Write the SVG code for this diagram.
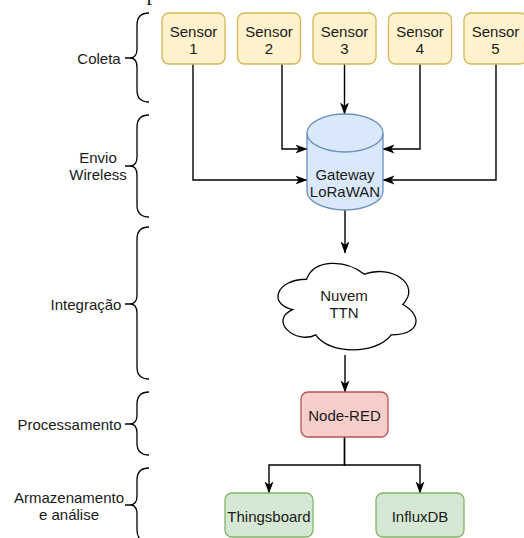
<svg xmlns="http://www.w3.org/2000/svg" width="524" height="538" viewBox="0 0 524 538">
<style>
text{font-family:"Liberation Sans",Arial,sans-serif;font-size:15px;fill:#1a1a1a;text-anchor:middle}
.sen{fill:#fff2cc;stroke:#d6b656;stroke-width:1.3}
.gw{fill:#dae8fc;stroke:#6c8ebf;stroke-width:1.3}
.red{fill:#f8cecc;stroke:#b85450;stroke-width:1.3}
.grn{fill:#d5e8d4;stroke:#82b366;stroke-width:1.3}
.cl{fill:#ffffff;stroke:#000;stroke-width:1.3}
.br{fill:none;stroke:#000;stroke-width:1.3}
.cn{fill:none;stroke:#000;stroke-width:1.4}
</style>
<defs>
<marker id="ah" markerUnits="userSpaceOnUse" markerWidth="12" markerHeight="10" viewBox="0 0 12 10" refX="11.5" refY="5" orient="auto">
<path d="M0,0.5 L12,5 L0,9.5 L3.2,5 Z" fill="#000"/>
</marker>
</defs>
<rect width="524" height="538" fill="#fff"/>
<text x="152" y="0" style="font-family:'Liberation Serif',serif;font-size:22px">p</text>

<g id="brackets">
<g id="b-coleta"><path class="br" d="M149,13 Q137,13 137,25 V49 Q137,58 130,58 H125 M130,58 Q137,58 137,67 V90 Q137,102 149,102"/><text x="99" y="64">Coleta</text></g>
<g id="b-envio"><path class="br" d="M149,115 Q137,115 137,127 V157 Q137,166 130,166 H125 M130,166 Q137,166 137,175 V205 Q137,217 149,217"/><text x="98" y="162.5">Envio</text><text x="98" y="179.5">Wireless</text></g>
<g id="b-integracao"><path class="br" d="M149,227 Q137,227 137,239 V295 Q137,304 130,304 H125 M130,304 Q137,304 137,313 V367 Q137,379 149,379"/><text x="86" y="310">Integração</text></g>
<g id="b-proc"><path class="br" d="M149,392 Q137,392 137,404 V415 Q137,424 130,424 H125 M130,424 Q137,424 137,433 V443 Q137,455 149,455"/><text x="69.5" y="429.5">Processamento</text></g>
<g id="b-armaz"><path class="br" d="M149,468 Q137,468 137,480 V496 Q137,505 130,505 H125 M130,505 Q137,505 137,514 V530 Q137,542 149,542"/><text x="69" y="502.5">Armazenamento</text><text x="69" y="520">e análise</text></g>
</g>

<g id="connectors">
<path class="cn" d="M193,64 V180 H307" marker-end="url(#ah)"/>
<path class="cn" d="M282,64 V149 H307" marker-end="url(#ah)"/>
<path class="cn" d="M344.5,64 V114" marker-end="url(#ah)"/>
<path class="cn" d="M420,64 V149 H383" marker-end="url(#ah)"/>
<path class="cn" d="M496,64 V180 H383" marker-end="url(#ah)"/>
<path class="cn" d="M345,210 V253" marker-end="url(#ah)"/>
<path class="cn" d="M345,355 V392" marker-end="url(#ah)"/>
<path class="cn" d="M344.5,437 V465 H269 V493" marker-end="url(#ah)"/>
<path class="cn" d="M344.5,437 V465 H420 V493" marker-end="url(#ah)"/>
</g>

<g id="sensor1"><rect class="sen" x="162" y="13" width="63" height="51" rx="7"/><text x="193.5" y="36.5">Sensor</text><text x="193.5" y="53.5">1</text></g>
<g id="sensor2"><rect class="sen" x="237.5" y="13" width="63" height="51" rx="7"/><text x="269" y="36.5">Sensor</text><text x="269" y="53.5">2</text></g>
<g id="sensor3"><rect class="sen" x="313" y="13" width="63" height="51" rx="7"/><text x="344.5" y="36.5">Sensor</text><text x="344.5" y="53.5">3</text></g>
<g id="sensor4"><rect class="sen" x="388.5" y="13" width="63" height="51" rx="7"/><text x="420" y="36.5">Sensor</text><text x="420" y="53.5">4</text></g>
<g id="sensor5"><rect class="sen" x="464" y="13" width="63" height="51" rx="7"/><text x="495.5" y="36.5">Sensor</text><text x="495.5" y="53.5">5</text></g>

<g id="gateway">
<path class="gw" d="M307,133 A38,19 0 0 1 383,133 V191 A38,19 0 0 1 307,191 Z"/>
<path class="gw" d="M307,133 A38,19 0 0 0 383,133" fill="none"/>
<text x="345" y="179.5">Gateway</text><text x="345" y="196.5">LoRaWAN</text>
</g>

<g id="cloud">
<path class="cl" d="M306.5,279.25 C275.7,279.25 268,304.5 292.64,309.55 C268,320.66 295.72,344.9 315.74,334.8 C329.6,355 375.8,355 391.2,334.8 C422,334.8 422,314.6 402.75,304.5 C422,284.3 391.2,264.1 364.25,274.2 C345,259.05 314.2,259.05 306.5,279.25 Z"/>
<text x="344" y="301">Nuvem</text><text x="344" y="318">TTN</text>
</g>

<g id="nodered"><rect class="red" x="301" y="392" width="87" height="45" rx="7"/><text x="344.5" y="421">Node-RED</text></g>
<g id="thingsboard"><rect class="grn" x="225" y="493" width="88" height="44" rx="7"/><text x="269" y="521.5">Thingsboard</text></g>
<g id="influxdb"><rect class="grn" x="376" y="493" width="88" height="44" rx="7"/><text x="420" y="521.5">InfluxDB</text></g>
</svg>
